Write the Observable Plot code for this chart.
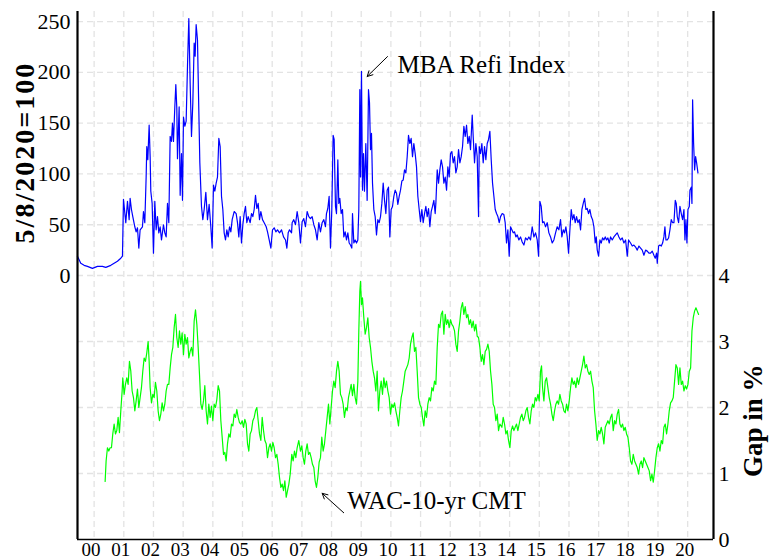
<!DOCTYPE html>
<html><head><meta charset="utf-8">
<script src="https://cdn.jsdelivr.net/npm/d3@7"></script>
<script src="https://cdn.jsdelivr.net/npm/@observablehq/plot@0.6"></script>
<style>body{margin:0;background:#fff}</style>
</head><body><div id="chart"></div>
<script>
// MBA Refi Index (5/8/2020 = 100)
const refiYear = [1999.438,1999.550,1999.663,1999.775,1999.944,2000.112,2000.281,2000.393,2000.562,2000.786,2000.899,2000.955,2000.989,2001.067,2001.124,2001.180,2001.213,2001.258,2001.303,2001.371,2001.416,2001.461,2001.506,2001.550,2001.629,2001.663,2001.708,2001.753,2001.775,2001.809,2001.854,2001.888,2001.910,2001.955,2002.000,2002.045,2002.090,2002.135,2002.180,2002.225,2002.270,2002.337,2002.382,2002.427,2002.472,2002.517,2002.562,2002.607,2002.640,2002.674,2002.719,2002.753,2002.786,2002.809,2002.865,2002.899,2002.944,2002.978,2003.011,2003.056,2003.101,2003.146,2003.191,2003.236,2003.281,2003.326,2003.371,2003.404,2003.438,2003.483,2003.517,2003.562,2003.618,2003.663,2003.708,2003.764,2003.820,2003.876,2003.932,2003.977,2004.022,2004.067,2004.112,2004.157,2004.202,2004.247,2004.292,2004.337,2004.382,2004.427,2004.472,2004.517,2004.562,2004.607,2004.652,2004.719,2004.786,2004.831,2004.876,2004.921,2004.966,2005.011,2005.056,2005.101,2005.146,2005.191,2005.258,2005.303,2005.348,2005.393,2005.438,2005.483,2005.528,2005.573,2005.618,2005.674,2005.730,2005.798,2005.843,2005.899,2005.955,2006.011,2006.067,2006.124,2006.180,2006.247,2006.315,2006.382,2006.449,2006.494,2006.539,2006.584,2006.652,
2006.672,2006.728,2006.785,2006.841,2006.897,2006.953,2007.009,2007.065,2007.122,2007.178,2007.234,2007.290,2007.346,2007.403,2007.459,2007.515,2007.571,2007.627,2007.683,2007.740,2007.796,2007.829,2007.874,2007.919,2007.964,2008.009,2008.054,2008.088,2008.133,2008.167,2008.212,2008.245,2008.279,2008.324,2008.369,2008.414,2008.459,2008.504,2008.549,2008.594,2008.638,2008.683,2008.706,2008.751,2008.796,2008.841,2008.886,2008.919,2008.953,2008.976,2009.009,2009.043,2009.077,2009.110,2009.155,2009.200,2009.245,2009.279,2009.313,2009.346,2009.380,2009.425,2009.470,2009.515,2009.560,2009.605,2009.650,2009.695,2009.740,2009.785,2009.830,2009.874,2009.919,2009.964,2010.009,2010.054,2010.099,2010.144,2010.189,2010.234,2010.279,2010.324,2010.369,2010.414,2010.459,2010.504,2010.549,2010.593,2010.638,2010.683,2010.728,2010.773,2010.818,2010.863,2010.908,2010.953,2010.998,2011.043,2011.088,2011.133,2011.178,2011.223,2011.268,2011.313,2011.358,2011.402,2011.447,2011.492,2011.515,2011.560,2011.605,2011.650,2011.695,2011.740,2011.785,2011.830,2011.875,2011.919,2011.964,2012.009,2012.054,2012.099,2012.144,2012.189,2012.234,2012.279,2012.324,2012.369,2012.414,2012.459,2012.504,2012.549,2012.594,2012.639,2012.683,2012.740,2012.773,2012.818,2012.863,2012.908,2012.953,2012.976,2013.020,2013.065,2013.110,2013.155,2013.200,2013.245,2013.290,2013.335,2013.380,2013.425,2013.470,2013.515,2013.560,2013.605,2013.650,2013.695,
2013.750,2013.806,2013.851,2013.896,2013.941,2013.986,2014.031,2014.076,2014.121,2014.166,2014.211,2014.256,2014.312,2014.368,2014.424,2014.481,2014.537,2014.593,2014.649,2014.705,2014.761,2014.818,2014.874,2014.930,2014.975,2015.020,2015.065,2015.110,2015.155,2015.211,2015.267,2015.323,2015.379,2015.436,2015.492,2015.548,2015.604,2015.660,2015.716,2015.761,2015.806,2015.851,2015.896,2015.941,2015.986,2016.031,2016.076,2016.121,2016.166,2016.211,2016.256,2016.301,2016.346,2016.391,2016.436,2016.481,2016.526,2016.571,2016.615,2016.660,2016.705,2016.750,2016.795,2016.840,2016.885,2016.919,2016.953,2016.998,2017.043,2017.087,2017.132,2017.177,2017.222,2017.267,2017.312,2017.357,2017.402,2017.458,2017.514,2017.570,2017.627,2017.683,2017.739,2017.795,2017.851,2017.908,2017.964,2018.009,2018.076,2018.132,2018.188,2018.245,2018.301,2018.357,2018.413,2018.469,2018.525,2018.582,2018.638,2018.694,2018.750,2018.806,2018.862,2018.907,2018.952,2018.975,2019.020,2019.065,2019.110,2019.155,2019.199,2019.233,2019.267,2019.312,2019.357,2019.402,2019.447,2019.492,2019.537,2019.582,2019.615,2019.649,2019.694,2019.739,2019.784,2019.829,2019.874,2019.908,2019.941,2019.975,2020.009,2020.054,2020.076,2020.121,2020.144,2020.166,2020.200,2020.234,2020.267,2020.301,2020.346];
const refiValue = [19,12,10,9,7,9,9,8,10,14,17,19,75,52,73,55,76,65,58,48,43,47,27,45,48,63,52,97,127,114,148,117,83,71,22,73,45,58,42,48,35,50,42,38,71,52,137,132,150,132,166,188,165,115,166,79,120,74,156,147,152,206,253,189,137,170,229,216,247,232,179,111,68,55,65,82,55,70,48,27,89,83,91,97,135,127,78,65,42,35,45,38,48,43,55,63,61,52,38,58,32,50,61,68,52,58,52,61,58,65,79,66,71,55,63,55,52,48,43,35,27,45,47,43,45,42,45,38,35,27,42,45,42,
52,55,50,63,52,32,53,56,48,63,58,56,58,50,45,35,52,43,52,55,48,61,66,78,27,65,138,134,68,61,114,71,76,61,65,38,43,35,42,32,30,27,61,32,35,32,35,65,183,97,201,84,120,83,130,74,183,170,124,140,91,65,58,40,55,52,58,71,91,74,61,84,87,38,65,68,78,84,81,70,78,84,93,94,104,101,117,138,130,135,117,130,120,107,78,65,53,65,52,61,68,58,66,48,63,68,74,61,71,104,91,104,114,107,91,97,84,107,97,120,122,111,117,101,107,124,111,117,127,147,137,148,130,137,124,158,137,111,130,117,58,127,120,130,111,127,114,130,134,142,114,91,78,65,61,58,52,58,
61,60,52,32,45,19,48,45,42,43,38,40,35,38,33,30,37,35,38,35,48,38,42,35,19,73,68,52,53,48,52,42,38,32,35,42,48,45,55,38,45,42,48,38,22,45,65,55,60,52,58,52,55,45,65,71,76,65,66,61,65,58,55,48,32,38,25,19,35,32,37,35,38,35,37,32,38,35,38,40,42,38,35,37,32,35,19,35,32,29,30,28,25,29,27,25,20,25,24,22,22,24,20,17,22,12,29,30,29,32,38,48,35,35,37,45,55,52,52,74,71,58,52,68,61,55,65,35,55,32,65,68,84,87,71,173,130,104,117,111,101];

// WAC minus 10-yr CMT gap, in %
const gapYear = [2000.371,2000.404,2000.449,2000.494,2000.539,2000.584,2000.629,2000.674,2000.719,2000.764,2000.809,2000.854,2000.899,2000.944,2000.966,2001.011,2001.056,2001.101,2001.146,2001.191,2001.236,2001.281,2001.326,2001.371,2001.416,2001.461,2001.506,2001.550,2001.595,2001.640,2001.685,2001.730,2001.775,2001.820,2001.854,2001.888,2001.933,2001.978,2002.022,2002.067,2002.112,2002.157,2002.202,2002.247,2002.292,2002.337,2002.382,2002.427,2002.472,2002.517,2002.562,2002.607,2002.652,2002.697,2002.742,2002.786,2002.831,2002.876,2002.921,2002.966,2003.011,2003.056,2003.101,2003.146,2003.191,2003.236,2003.281,2003.326,2003.371,2003.416,2003.461,2003.506,2003.551,2003.596,2003.640,2003.685,2003.730,2003.775,2003.820,2003.865,2003.910,2003.955,2004.000,2004.045,2004.090,2004.135,2004.180,2004.225,2004.270,2004.315,2004.360,2004.404,2004.449,2004.494,2004.539,2004.584,2004.629,2004.674,2004.719,2004.764,2004.809,2004.854,2004.899,2004.944,2004.989,2005.034,2005.079,2005.124,2005.169,2005.213,2005.258,2005.303,2005.348,2005.393,2005.438,2005.483,2005.528,2005.573,2005.618,2005.663,2005.708,2005.753,2005.798,2005.843,2005.888,2005.933,2005.977,2006.022,2006.067,2006.112,2006.157,2006.202,2006.247,2006.292,2006.337,2006.382,2006.427,2006.472,2006.517,2006.562,2006.607,
2006.661,2006.706,2006.751,2006.796,2006.841,2006.897,2006.953,2006.998,2007.043,2007.088,2007.133,2007.178,2007.223,2007.268,2007.313,2007.358,2007.403,2007.447,2007.492,2007.537,2007.582,2007.627,2007.672,2007.717,2007.762,2007.807,2007.852,2007.897,2007.942,2007.987,2008.032,2008.077,2008.122,2008.167,2008.212,2008.256,2008.301,2008.346,2008.391,2008.436,2008.481,2008.526,2008.571,2008.616,2008.661,2008.706,2008.751,2008.796,2008.841,2008.886,2008.919,2008.953,2008.976,2009.009,2009.043,2009.088,2009.133,2009.178,2009.223,2009.268,2009.313,2009.358,2009.403,2009.447,2009.492,2009.537,2009.582,2009.627,2009.672,2009.717,2009.762,2009.807,2009.852,2009.897,2009.942,2009.987,2010.032,2010.077,2010.122,2010.167,2010.212,2010.256,2010.301,2010.346,2010.391,2010.436,2010.481,2010.526,2010.571,2010.616,2010.661,2010.706,2010.751,2010.796,2010.841,2010.886,2010.931,2010.976,2011.021,2011.065,2011.110,2011.155,2011.200,2011.245,2011.290,2011.335,2011.380,2011.425,2011.470,2011.515,2011.560,2011.605,2011.650,2011.695,2011.740,2011.785,2011.830,2011.874,2011.919,2011.964,2012.009,2012.054,2012.099,2012.144,2012.189,2012.234,2012.279,2012.324,2012.369,2012.414,2012.459,2012.504,2012.549,2012.593,2012.638,2012.683,2012.728,2012.773,2012.818,2012.863,2012.908,2012.953,2012.998,2013.043,2013.088,2013.133,2013.178,2013.223,2013.268,2013.313,2013.358,2013.403,2013.447,2013.492,2013.537,2013.582,2013.627,2013.672,
2013.739,2013.784,2013.829,2013.874,2013.919,2013.964,2014.009,2014.054,2014.099,2014.144,2014.188,2014.233,2014.278,2014.323,2014.368,2014.413,2014.458,2014.503,2014.548,2014.593,2014.638,2014.683,2014.728,2014.773,2014.818,2014.863,2014.908,2014.953,2014.997,2015.042,2015.076,2015.110,2015.155,2015.200,2015.245,2015.290,2015.335,2015.380,2015.425,2015.470,2015.515,2015.559,2015.604,2015.649,2015.694,2015.739,2015.784,2015.829,2015.874,2015.919,2015.964,2016.009,2016.054,2016.099,2016.144,2016.188,2016.233,2016.278,2016.323,2016.368,2016.413,2016.458,2016.503,2016.548,2016.593,2016.638,2016.683,2016.728,2016.773,2016.818,2016.863,2016.907,2016.952,2016.997,2017.042,2017.087,2017.132,2017.177,2017.222,2017.267,2017.312,2017.357,2017.402,2017.447,2017.492,2017.537,2017.582,2017.627,2017.672,2017.716,2017.761,2017.806,2017.851,2017.896,2017.941,2017.986,2018.031,2018.076,2018.121,2018.166,2018.211,2018.256,2018.301,2018.346,2018.391,2018.436,2018.480,2018.525,2018.570,2018.615,2018.660,2018.705,2018.750,2018.795,2018.840,2018.885,2018.930,2018.975,2019.020,2019.065,2019.110,2019.155,2019.199,2019.244,2019.289,2019.334,2019.379,2019.424,2019.469,2019.514,2019.559,2019.604,2019.649,2019.694,2019.739,2019.784,2019.829,2019.874,2019.919,2019.964,2020.009,2020.054,2020.099,2020.144,2020.188,2020.233,2020.278,2020.323,2020.368];
const gapValue = [0.88,1.19,1.39,1.34,1.39,1.39,1.60,1.75,1.60,1.65,1.85,1.62,1.95,2.25,2.45,2.20,2.35,2.45,2.35,2.70,2.55,2.25,2.15,1.95,2.10,2.28,2.00,2.15,2.30,2.55,2.75,2.70,2.83,3.00,2.70,2.30,2.07,2.20,2.15,2.38,2.25,1.95,1.80,1.90,2.07,1.95,2.05,2.25,2.35,2.35,2.60,2.80,2.91,3.21,3.41,3.06,2.91,3.16,2.96,3.13,2.80,3.11,2.96,3.06,2.75,2.85,2.91,2.78,3.31,3.48,3.26,2.91,2.50,2.05,1.97,2.10,2.33,1.95,1.75,2.05,1.85,2.02,1.80,2.05,2.00,2.12,2.33,2.25,1.80,1.55,1.29,1.32,1.19,1.45,1.60,1.55,1.75,1.72,1.90,1.85,1.97,1.85,1.77,1.75,1.80,1.70,1.82,1.75,1.45,1.34,1.60,1.65,1.80,1.85,1.95,2.00,1.80,1.60,1.50,1.85,1.65,1.50,1.45,1.24,1.39,1.45,1.34,1.47,1.39,1.24,1.29,1.14,0.94,0.79,0.84,0.74,0.89,0.64,0.74,0.84,0.99,
1.29,1.19,1.34,1.24,1.39,1.50,1.34,1.42,1.24,1.14,1.34,1.45,1.29,1.32,1.24,1.14,1.09,0.89,0.79,0.94,1.17,1.24,1.55,1.34,1.45,1.65,1.85,2.05,1.75,2.00,2.25,2.40,2.30,2.55,2.70,2.55,2.20,2.15,2.05,1.85,2.00,1.95,2.15,2.25,2.35,2.18,2.35,2.15,2.05,2.40,3.16,3.76,3.91,3.56,3.66,3.36,3.11,3.21,3.36,3.06,2.91,2.70,2.55,2.45,2.25,2.55,1.95,2.25,2.40,2.20,2.45,2.30,2.40,2.25,2.15,1.90,2.05,2.00,2.07,1.95,1.85,1.72,1.95,2.15,2.25,2.40,2.55,2.60,2.65,2.75,2.96,3.06,3.13,2.85,2.91,2.55,2.15,2.05,2.00,1.85,1.72,1.95,1.85,2.05,2.15,2.10,2.30,2.25,2.40,2.35,2.91,3.26,3.21,3.41,3.46,3.11,3.41,3.26,3.33,3.21,3.33,3.26,3.23,3.16,2.96,2.85,3.16,3.31,3.51,3.59,3.41,3.53,3.36,3.41,3.26,3.33,3.21,3.31,3.16,3.26,3.08,3.06,2.91,2.70,2.80,2.65,2.85,2.88,2.96,2.85,2.55,2.35,2.05,2.00,1.80,1.90,1.65,1.75,
1.70,1.85,1.75,1.60,1.65,1.50,1.39,1.65,1.72,1.65,1.70,1.75,1.65,1.75,1.85,1.90,1.80,1.85,1.95,2.00,1.85,1.75,1.95,2.05,2.00,2.15,2.10,2.20,2.10,2.55,2.63,2.30,2.10,2.40,2.45,2.30,2.15,2.05,1.90,1.80,1.95,2.05,2.10,2.05,2.20,2.10,2.05,1.95,1.92,2.05,1.95,2.10,2.30,2.45,2.35,2.40,2.30,2.45,2.35,2.45,2.55,2.65,2.78,2.60,2.65,2.55,2.50,2.55,2.40,2.30,1.95,1.75,1.50,1.65,1.60,1.70,1.60,1.45,1.70,1.75,1.80,1.75,1.85,1.90,1.65,1.80,1.75,1.90,1.97,1.75,1.70,1.75,1.65,1.70,1.60,1.55,1.39,1.19,1.14,1.29,1.19,1.14,1.09,0.99,1.14,1.19,1.09,1.24,1.19,1.14,1.09,1.04,0.89,0.99,0.87,1.04,1.24,1.39,1.45,1.34,1.50,1.45,1.70,1.75,1.60,1.75,1.95,2.07,2.10,2.15,2.40,2.65,2.60,2.35,2.60,2.35,2.40,2.25,2.33,2.28,2.35,2.55,2.60,3.16,3.36,3.46,3.51,3.46,3.41];

const leftTicks = [0, 50, 100, 150, 200, 250];
const rightTicks = [0, 1, 2, 3, 4];
const yearTicks = [2000,2001,2002,2003,2004,2005,2006,2007,2008,2009,2010,2011,2012,2013,2014,2015,2016,2017,2018,2019,2020];
const xDomain = [1999.44, 2020.87];
const leftDomain = [-260, 260];
const rightDomain = [0, 8];
const leftTitle = "5/8/2020=100";
const rightTitle = "Gap in %";

const toLeft = g => leftDomain[0] + (g - rightDomain[0]) * (leftDomain[1] - leftDomain[0]) / (rightDomain[1] - rightDomain[0]);
const fromLeft = v => rightDomain[0] + (v - leftDomain[0]) * (rightDomain[1] - rightDomain[0]) / (leftDomain[1] - leftDomain[0]);

const refi = refiYear.map((t, i) => ({t, v: refiValue[i]}));
const gap = gapYear.map((t, i) => ({t, v: toLeft(gapValue[i])}));

const notes = [
  {text: "MBA Refi Index", x: 2010.22, y: 207},
  {text: "WAC-10-yr CMT", x: 2008.53, y: toLeft(0.576)}
];
const arrows = [
  {x1: 2009.885, y1: 215.6, x2: 2009.20, y2: 196},
  {x1: 2008.41, y1: toLeft(0.405), x2: 2007.684, y2: toLeft(0.70)}
];
const titles = [
  {text: leftTitle, x: 1997.68, y: 121, size: 28},
  {text: rightTitle, x: 2022.22, y: toLeft(1.80), size: 27}
];

const gridColor = "#e3e3e3";
const dash = "6,4";
const font = "'Liberation Serif', 'DejaVu Serif', serif";

const chart = Plot.plot({
  width: 769,
  height: 559,
  marginLeft: 77,
  marginRight: 56,
  marginTop: 11,
  marginBottom: 20,
  style: {fontFamily: font, background: "#fff", color: "#000"},
  x: {domain: xDomain},
  y: {domain: leftDomain},
  marks: [
    Plot.ruleY(leftTicks, {stroke: gridColor, strokeWidth: 1.3, strokeDasharray: dash}),
    Plot.ruleY(rightTicks.slice(1, 4).map(toLeft), {stroke: gridColor, strokeWidth: 1.3, strokeDasharray: dash}),
    Plot.ruleX(yearTicks, {stroke: gridColor, strokeWidth: 1.3, strokeDasharray: dash}),
    Plot.line(refi, {x: "t", y: "v", stroke: "#0000ff", strokeWidth: 1.2}),
    Plot.line(gap, {x: "t", y: "v", stroke: "#00ff00", strokeWidth: 1.2}),
    Plot.ruleX([xDomain[0]], {stroke: "#000", strokeWidth: 2.2}),
    Plot.ruleX([xDomain[1]], {stroke: "#000", strokeWidth: 2.2}),
    Plot.ruleY([leftDomain[0]], {stroke: "#000", strokeWidth: 1.6}),
    Plot.axisY(leftTicks, {anchor: "left", tickSize: 0, tickPadding: 7, fontSize: 22, label: null}),
    Plot.axisY(rightTicks.map(toLeft), {anchor: "right", tickSize: 0, tickPadding: 5, fontSize: 22, label: null, tickFormat: v => String(Math.round(fromLeft(v)))}),
    Plot.axisX(yearTicks, {anchor: "bottom", tickSize: 0, tickPadding: 3, fontSize: 19, label: null, dx: -3, tickFormat: d => String(d % 100).padStart(2, "0")}),
    Plot.arrow(arrows, {x1: "x1", y1: "y1", x2: "x2", y2: "y2", stroke: "#000", strokeWidth: 1, headLength: 9, headAngle: 55}),
    Plot.text(notes, {x: "x", y: "y", text: "text", textAnchor: "start", lineAnchor: "middle", fontSize: 25, fill: "#000"}),
    Plot.text(titles, {x: "x", y: "y", text: "text", rotate: -90, textAnchor: "middle", lineAnchor: "middle", fontSize: "size", fontWeight: "bold", fill: "#000"})
  ]
});
document.getElementById("chart").appendChild(chart);
d3.select(chart).selectAll("text").filter(function(){ return this.textContent === leftTitle; }).style("letter-spacing", "2px");
</script>
</body></html>
